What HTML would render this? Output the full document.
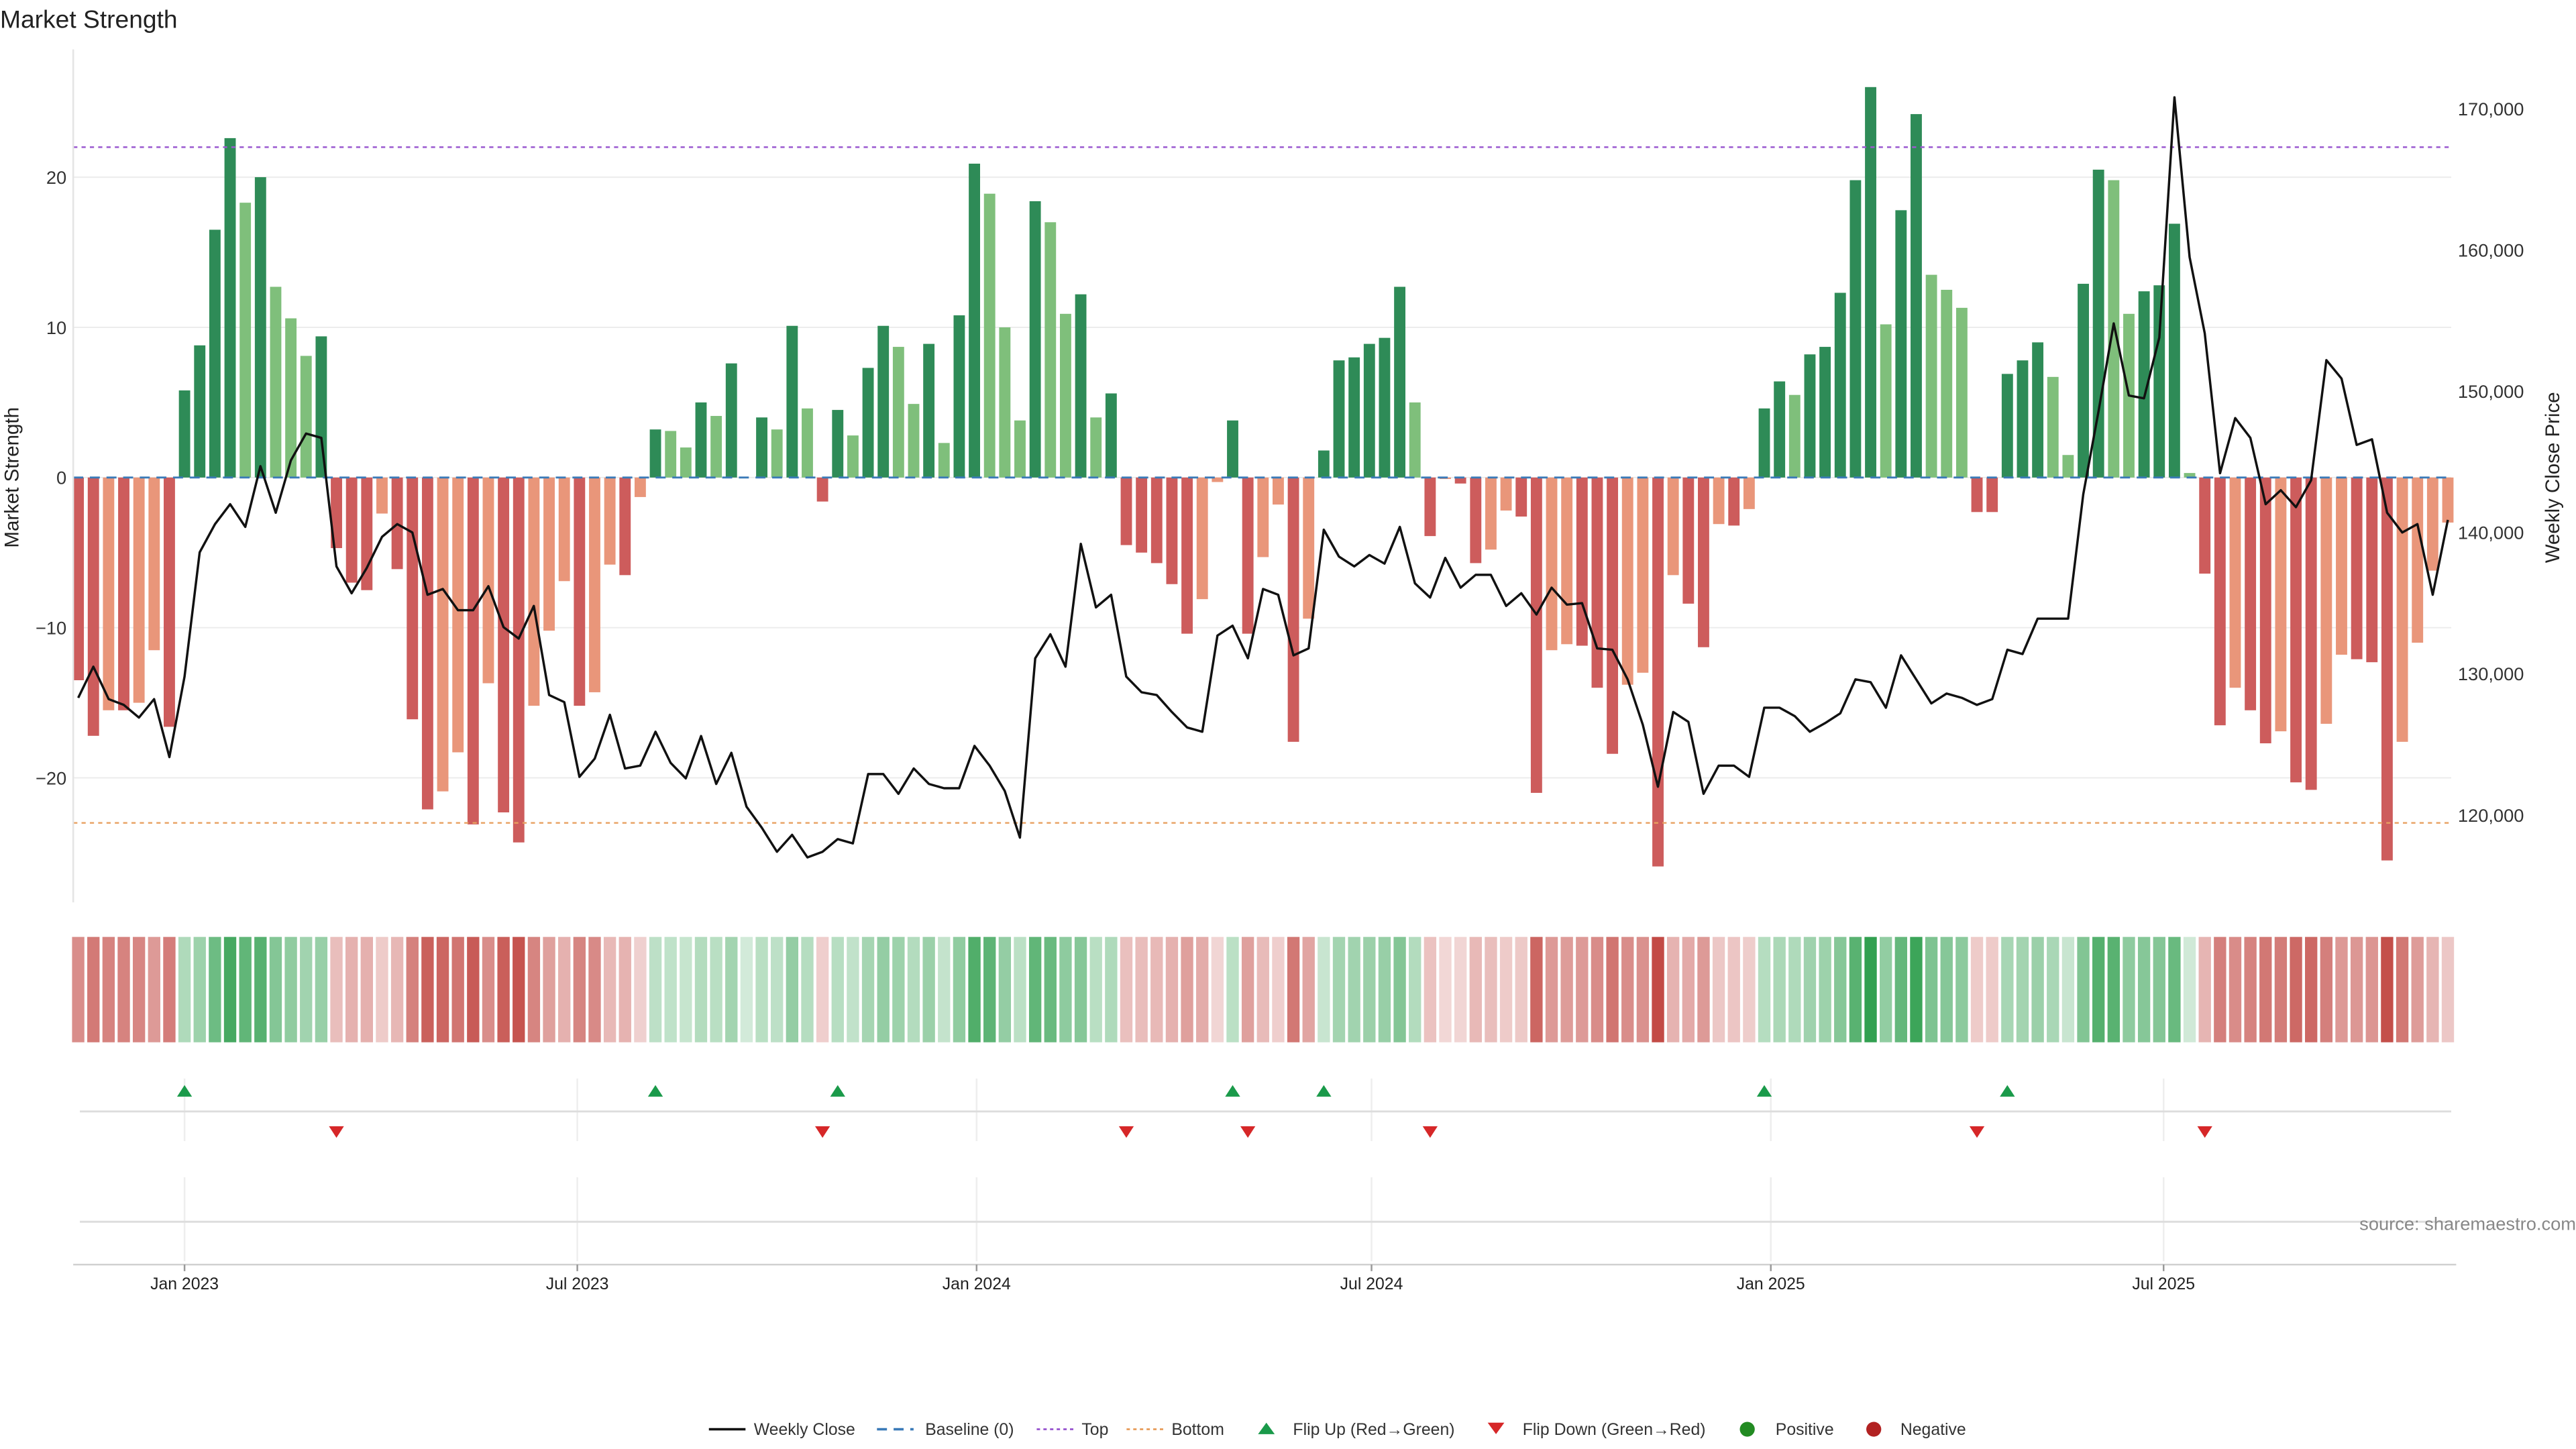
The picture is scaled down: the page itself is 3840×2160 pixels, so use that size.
<!DOCTYPE html>
<html><head><meta charset="utf-8"><style>
html,body{margin:0;padding:0;background:#fff}
svg{display:block;font-family:"Liberation Sans","DejaVu Sans",sans-serif}
</style></head><body>
<svg id="chart" width="3840" height="2160" viewBox="0 0 1548 880" preserveAspectRatio="none" xmlns="http://www.w3.org/2000/svg">
<text x="0" y="17" font-size="15" fill="#222">Market Strength</text>
<g id="grid"></g>
<g id="heat"></g>
<g id="bars"></g>
<g id="lines"></g>
<g id="price"></g>
<g id="flips"></g>
<g id="axes"></g>
<text x="1548" y="747" font-size="11" fill="#888" text-anchor="end">source: sharemaestro.com</text>
<g id="legend"></g>
</svg>
<script>
const strength = [-13.5,-17.2,-15.5,-15.5,-15.0,-11.5,-16.6,5.8,8.8,16.5,22.6,18.3,20.0,12.7,10.6,8.1,9.4,
-4.7,-7.0,-7.5,-2.4,-6.1,-16.1,-22.1,-20.9,-18.3,-23.1,-13.7,-22.3,-24.3,-15.2,-10.2,-6.9,-15.2,-14.3,-5.8,-6.5,-1.3,
3.2,3.1,2.0,5.0,4.1,7.6,0,4.0,3.2,10.1,4.6,-1.6,4.5,2.8,7.3,10.1,8.7,4.9,8.9,2.3,10.8,20.9,18.9,10.0,3.8,18.4,17.0,10.9,12.2,4.0,5.6,
-4.5,-5.0,-5.7,-7.1,-10.4,-8.1,-0.3,3.8,-10.4,-5.3,-1.8,-17.6,-9.4,1.8,7.8,8.0,8.9,9.3,12.7,5.0,
-3.9,-0.1,-0.4,-5.7,-4.8,-2.2,-2.6,-21.0,-11.5,-11.1,-11.2,-14.0,-18.4,-13.8,-13.0,-25.9,-6.5,-8.4,-11.3,-3.1,-3.2,-2.1,
4.6,6.4,5.5,8.2,8.7,12.3,19.8,26.0,10.2,17.8,24.2,13.5,12.5,11.3,-2.3,-2.3,6.9,7.8,9.0,6.7,1.5,12.9,20.5,19.8,10.9,12.4,12.8,16.9,0.3,
-6.4,-16.5,-14.0,-15.5,-17.7,-16.9,-20.3,-20.8,-16.4,-11.8,-12.1,-12.3,-25.5,-17.6,-11.0,-6.2,-3.0];
const closes = [128.3,130.5,128.2,127.8,126.9,128.2,124.1,129.8,138.6,140.6,142.0,140.4,144.7,141.4,145.1,147.0,146.7,
137.6,135.7,137.5,139.7,140.6,140.0,135.6,136.0,134.5,134.5,136.2,133.3,132.5,134.8,128.5,128.0,122.7,124.0,127.1,123.3,123.5,
125.9,123.7,122.6,125.6,122.2,124.4,120.6,119.1,117.4,118.6,117.0,117.4,118.3,118.0,122.9,122.9,121.5,123.3,122.2,121.9,121.9,124.9,123.5,121.7,118.4,131.1,132.8,130.5,139.2,134.7,135.6,
129.8,128.7,128.5,127.3,126.2,125.9,132.7,133.4,131.1,136.0,135.6,131.3,131.8,140.2,138.3,137.6,138.4,137.8,140.4,136.4,
135.4,138.2,136.1,137.0,137.0,134.8,135.7,134.2,136.1,134.9,135.0,131.8,131.7,129.6,126.4,122.0,127.3,126.6,121.5,123.5,123.5,122.7,
127.6,127.6,127.0,125.9,126.5,127.2,129.6,129.4,127.6,131.3,129.6,127.9,128.6,128.3,127.8,128.2,131.7,131.4,133.9,133.9,133.9,142.7,148.6,154.8,149.7,149.5,153.8,170.8,159.5,
154.1,144.2,148.1,146.7,142.0,143.0,141.8,143.7,152.2,150.9,146.2,146.6,141.4,140.0,140.6,135.6,140.9];
const leftTicks = [20,10,0,-10,-20];
const leftTickLabels = ["20","10","0","\u221210","\u221220"];
const rightTicks = [170,160,150,140,130,120];
const rightTickLabels = ["170,000","160,000","150,000","140,000","130,000","120,000"];
const dateTicks = ["2023-01-01","2023-07-01","2024-01-01","2024-07-01","2025-01-01","2025-07-01"];
const dateTickLabels = ["Jan 2023","Jul 2023","Jan 2024","Jul 2024","Jan 2025","Jul 2025"];
const topLevel = 22, bottomLevel = -23;
const startDate = "2022-11-13";

const NS="http://www.w3.org/2000/svg";
const X0=47, STEP=(1471-47)/156;
function xi(i){return X0+i*STEP;}
function xd(s){return X0+(new Date(s)-new Date(startDate))/(7*864e5)*STEP;}
function yL(v){return 290-v*9.12;}
function yR(p){return 66+(170-p)*8.58;}
function mk(tag,attrs,parent){const e=document.createElementNS(NS,tag);for(const k in attrs)e.setAttribute(k,attrs[k]);parent.appendChild(e);return e;}
const G=id=>document.getElementById(id);

// grid
const grid=G('grid');
leftTicks.forEach((t,i)=>{
  const l=mk('line',{x1:44,x2:1473,y1:yL(t),y2:yL(t),stroke:'#ececec','stroke-width':0.8},grid);
  
  
});
const ax=G('axes');
let la=mk('line',{x1:44,x2:44,y1:30,y2:548,stroke:'#e4e4e4','stroke-width':1},ax);


leftTicks.forEach((t,i)=>{
  const tx=mk('text',{x:40,y:yL(t)+4,'font-size':11,'text-anchor':'end',fill:'#333'},ax);
  tx.textContent=leftTickLabels[i];
  
  
});
rightTicks.forEach((t,i)=>{
  const tx=mk('text',{x:1477,y:yR(t)+4,'font-size':11,fill:'#333'},ax);
  tx.textContent=rightTickLabels[i];
  
  
});
let yt=mk('text',{x:0,y:0,'font-size':12,'text-anchor':'middle',fill:'#222',transform:'translate(11,290) rotate(-90)'},ax);
yt.textContent='Market Strength';


let yt2=mk('text',{x:0,y:0,'font-size':12,'text-anchor':'middle',fill:'#222',transform:'translate(1538,290) rotate(-90)'},ax);
yt2.textContent='Weekly Close Price';


let bl=mk('line',{x1:44,x2:1476,y1:768,y2:768,stroke:'#d0d0d0','stroke-width':1},ax);


dateTicks.forEach((d,i)=>{
  const x=xd(d);
  const tk=mk('line',{x1:x,x2:x,y1:768,y2:772,stroke:'#999'},ax);
  
  
  const tx=mk('text',{x:x,y:783,'font-size':10,'text-anchor':'middle',fill:'#222'},ax);
  tx.textContent=dateTickLabels[i];
  
  
});

// bars
const bars=G('bars');
strength.forEach((v,i)=>{
  if(v===0)return;
  const prev=i>0?strength[i-1]:v;
  let c;
  if(v>0)c=(v>=prev)?'#2e8b57':'#7fbf7b';
  else c=(v<=prev)?'#cd5c5c':'#e9967a';
  const y0=yL(0),y1=yL(v);
  const r=mk('rect',{x:xi(i)-3.4,y:Math.min(y0,y1),width:6.8,height:Math.abs(y1-y0),fill:c},bars);
  
  
});

// reference lines
const lines=G('lines');
let b0=mk('line',{x1:44,x2:1473,y1:yL(0),y2:yL(0),stroke:'#3a7ab8','stroke-width':1.2,'stroke-dasharray':'6 4'},lines);


let tp=mk('line',{x1:44,x2:1473,y1:yL(topLevel),y2:yL(topLevel),stroke:'#9b59d0','stroke-width':1,'stroke-dasharray':'2.5 2.5'},lines);


let bt=mk('line',{x1:44,x2:1473,y1:yL(bottomLevel),y2:yL(bottomLevel),stroke:'#e8a060','stroke-width':1,'stroke-dasharray':'2.5 2.5'},lines);



// price line
const pr=G('price');
let pl=mk('polyline',{points:closes.map((p,i)=>xi(i).toFixed(1)+','+yR(p).toFixed(1)).join(' '),fill:'none',stroke:'#111','stroke-width':1.4,'stroke-linejoin':'round'},pr);



// heatmap
const heat=G('heat');
strength.forEach((v,i)=>{
  const a=0.22+0.78*Math.min(Math.abs(v)/26,1);
  const c=v>=0?'rgba(50,160,80,'+a.toFixed(2)+')':'rgba(195,75,70,'+a.toFixed(2)+')';
  const r=mk('rect',{x:xi(i)-3.7,y:569,width:7.4,height:64,fill:c},heat);
  
  
});

// flips panel
const fl=G('flips');
dateTicks.forEach(d=>{
  const x=xd(d);
  const v1=mk('line',{x1:x,x2:x,y1:655,y2:693,stroke:'#eee'},fl);
  
  
  const v2=mk('line',{x1:x,x2:x,y1:715,y2:766,stroke:'#eee'},fl);
  
  
});
let fh=mk('line',{x1:48,x2:1473,y1:675,y2:675,stroke:'#ddd','stroke-width':1.2},fl);


let lh=mk('line',{x1:48,x2:1473,y1:742,y2:742,stroke:'#ddd','stroke-width':1.2},fl);


for(let i=1;i<strength.length;i++){
  const p=strength[i-1],v=strength[i],x=xi(i);
  if(p<0&&v>0){
    const t=mk('polygon',{points:`${x-4.5},666 ${x+4.5},666 ${x},659`,fill:'#1a9a4a'},fl);
    
    
  } else if(p>0&&v<0){
    const t=mk('polygon',{points:`${x-4.5},684 ${x+4.5},684 ${x},691`,fill:'#d62728'},fl);
    
    
  }
}

// legend
const lg=G('legend');
function ltext(x,s){const t=mk('text',{x:x,y:871.5,'font-size':10,fill:'#333'},lg);t.textContent=s;}
let l1=mk('line',{x1:426,x2:448,y1:868,y2:868,stroke:'#111','stroke-width':1.5},lg);


ltext(453,'Weekly Close');
let l2=mk('line',{x1:527,x2:549,y1:868,y2:868,stroke:'#3a7ab8','stroke-width':1.5,'stroke-dasharray':'6 4'},lg);


ltext(556,'Baseline (0)');
let l3=mk('line',{x1:623,x2:645,y1:868,y2:868,stroke:'#9b59d0','stroke-width':1.2,'stroke-dasharray':'2 2'},lg);


ltext(650,'Top');
let l4=mk('line',{x1:677,x2:699,y1:868,y2:868,stroke:'#e8a060','stroke-width':1.2,'stroke-dasharray':'2 2'},lg);


ltext(704,'Bottom');
let l5=mk('polygon',{points:'756,871 766,871 761,864',fill:'#1a9a4a'},lg);


ltext(777,'Flip Up (Red\u2192Green)');
let l6=mk('polygon',{points:'894,864 904,864 899,871',fill:'#d62728'},lg);


ltext(915,'Flip Down (Green\u2192Red)');
let l7=mk('circle',{cx:1050,cy:868,r:4.5,fill:'#228b22'},lg);


ltext(1067,'Positive');
let l8=mk('circle',{cx:1126,cy:868,r:4.5,fill:'#b22222'},lg);


ltext(1142,'Negative');
</script>
</body></html>
